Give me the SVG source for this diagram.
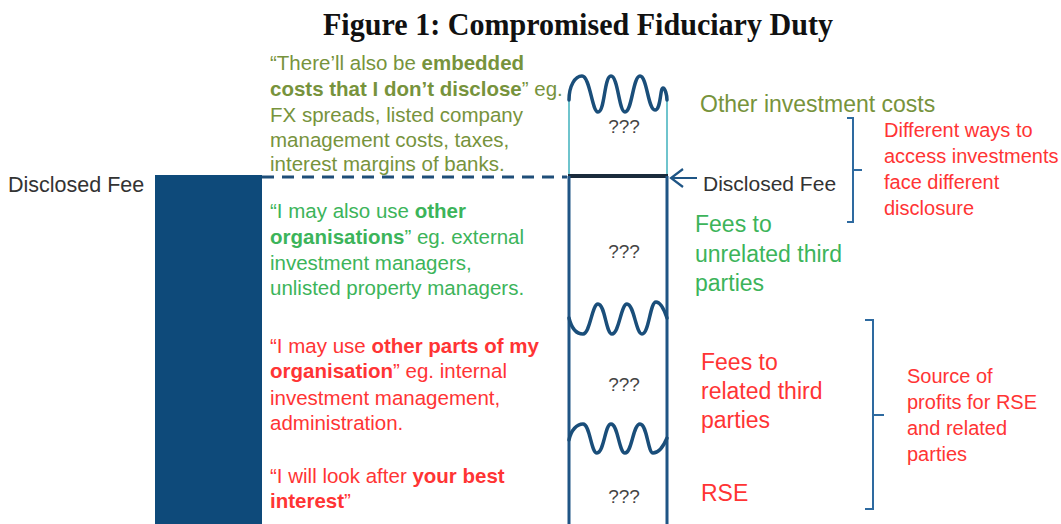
<svg xmlns="http://www.w3.org/2000/svg" width="1061" height="524" viewBox="0 0 1061 524">
<style>
.t{font-family:"Liberation Sans",Arial,sans-serif;}
.b{font-weight:bold;}
.olive{fill:#77933c;}
.green{fill:#3cb45a;}
.red{fill:#ff3434;}
.gray{fill:#333333;}
.q{font-family:"Liberation Sans",Arial,sans-serif;font-size:19px;fill:#444444;text-anchor:middle;}
.wave{fill:none;stroke:#1a4e7a;stroke-width:3.5;stroke-linecap:round;}
.side{fill:none;stroke:#1f5585;stroke-width:3;}
.brace{fill:none;stroke:#2e6aa0;stroke-width:2;}
</style>
<rect width="1061" height="524" fill="#ffffff"/>
<g id="title">
<text x="578" y="35" text-anchor="middle" font-family="Liberation Serif,Times New Roman,serif" font-weight="bold" font-size="30.5" fill="#111111" textLength="510" lengthAdjust="spacingAndGlyphs">Figure 1: Compromised Fiduciary Duty</text>
</g>
<g id="disclosed-bar">
<rect x="155" y="175" width="107" height="349" fill="#0e4a7a"/>
<text class="t gray" x="8" y="192" font-size="21.5">Disclosed Fee</text>
</g>
<g id="connectors">
<line x1="262" y1="177" x2="567" y2="177" stroke="#1f4e79" stroke-width="3" stroke-dasharray="12,8"/>
<path d="M697,178 L671,178 M683,169 L671,178 L683,187" fill="none" stroke="#1f5585" stroke-width="2.2"/>
<path class="brace" d="M847,118 L853,118 L853,222 L847,222 M853,170 L862,170"/>
<path class="brace" d="M865,320 L873,320 L873,509 L865,509 M873,415 L884,415"/>
</g>
<g id="column">
<line x1="569" y1="98" x2="569" y2="175" stroke="#6fc4cd" stroke-width="2"/>
<line x1="667" y1="98" x2="667" y2="175" stroke="#6fc4cd" stroke-width="2"/>
<path class="wave" d="M569,100 C569,86 575,76 582,76 C590,76 592,112 598,112 C605,112 604,76 611,76 C618,76 619,112 625,112 C632,112 633,76 640,76 C647,76 648,110 655,110 C661,110 660,88 663,88 C665,88 667,95 667,100"/>
<line x1="568" y1="176" x2="668" y2="176" stroke="#1a2b3c" stroke-width="4"/>
<line class="side" x1="569" y1="176" x2="569" y2="524"/>
<line class="side" x1="667" y1="176" x2="667" y2="524"/>
<path class="wave" d="M569,318 C572,330 578,334 583,334 C590,334 592,304 598,304 C605,304 606,334 612,334 C619,334 621,304 627,304 C634,304 636,334 642,334 C649,334 650,302 656,302 C661,302 665,312 667,318"/>
<path class="wave" d="M569,440 C571,430 577,424 583,424 C590,424 591,453 597,453 C604,453 605,424 611,424 C618,424 619,453 625,453 C632,453 633,424 640,424 C647,424 648,453 653,453 C659,453 664,445 667,438"/>
<text class="q" x="624" y="133">???</text>
<text class="q" x="624" y="258">???</text>
<text class="q" x="624" y="391">???</text>
<text class="q" x="624" y="503">???</text>
</g>
<g id="left-texts" font-size="20.5">
<text class="t olive" x="270" y="70">“There’ll also be <tspan class="b">embedded</tspan></text>
<text class="t olive" x="270" y="96"><tspan class="b">costs that I don’t disclose</tspan>” eg.</text>
<text class="t olive" x="270" y="122">FX spreads, listed company</text>
<text class="t olive" x="270" y="147">management costs, taxes,</text>
<text class="t olive" x="270" y="171">interest margins of banks.</text>
<text class="t green" x="270" y="218">“I may also use <tspan class="b">other</tspan></text>
<text class="t green" x="270" y="244"><tspan class="b">organisations</tspan>” eg. external</text>
<text class="t green" x="270" y="270">investment managers,</text>
<text class="t green" x="270" y="295">unlisted property managers.</text>
<text class="t red" x="270" y="353">“I may use <tspan class="b">other parts of my</tspan></text>
<text class="t red" x="270" y="378"><tspan class="b">organisation</tspan>” eg. internal</text>
<text class="t red" x="270" y="405">investment management,</text>
<text class="t red" x="270" y="430">administration.</text>
<text class="t red" x="270" y="483">“I will look after <tspan class="b">your best</tspan></text>
<text class="t red" x="270" y="508"><tspan class="b">interest</tspan>”</text>
</g>
<g id="right-labels" font-size="23">
<text class="t olive" x="700" y="112">Other investment costs</text>
<text class="t gray" x="703" y="191" font-size="21">Disclosed Fee</text>
<text class="t green" x="695" y="232">Fees to</text>
<text class="t green" x="695" y="262">unrelated third</text>
<text class="t green" x="695" y="291">parties</text>
<text class="t red" x="701" y="370">Fees to</text>
<text class="t red" x="701" y="399">related third</text>
<text class="t red" x="701" y="428">parties</text>
<text class="t red" x="701" y="501">RSE</text>
</g>
<g id="brace-notes" font-size="20">
<text class="t red" x="884" y="137">Different ways to</text>
<text class="t red" x="884" y="163">access investments</text>
<text class="t red" x="884" y="189">face different</text>
<text class="t red" x="884" y="215">disclosure</text>
<text class="t red" x="907" y="383">Source of</text>
<text class="t red" x="907" y="409">profits for RSE</text>
<text class="t red" x="907" y="435">and related</text>
<text class="t red" x="907" y="461">parties</text>
</g>
</svg>
